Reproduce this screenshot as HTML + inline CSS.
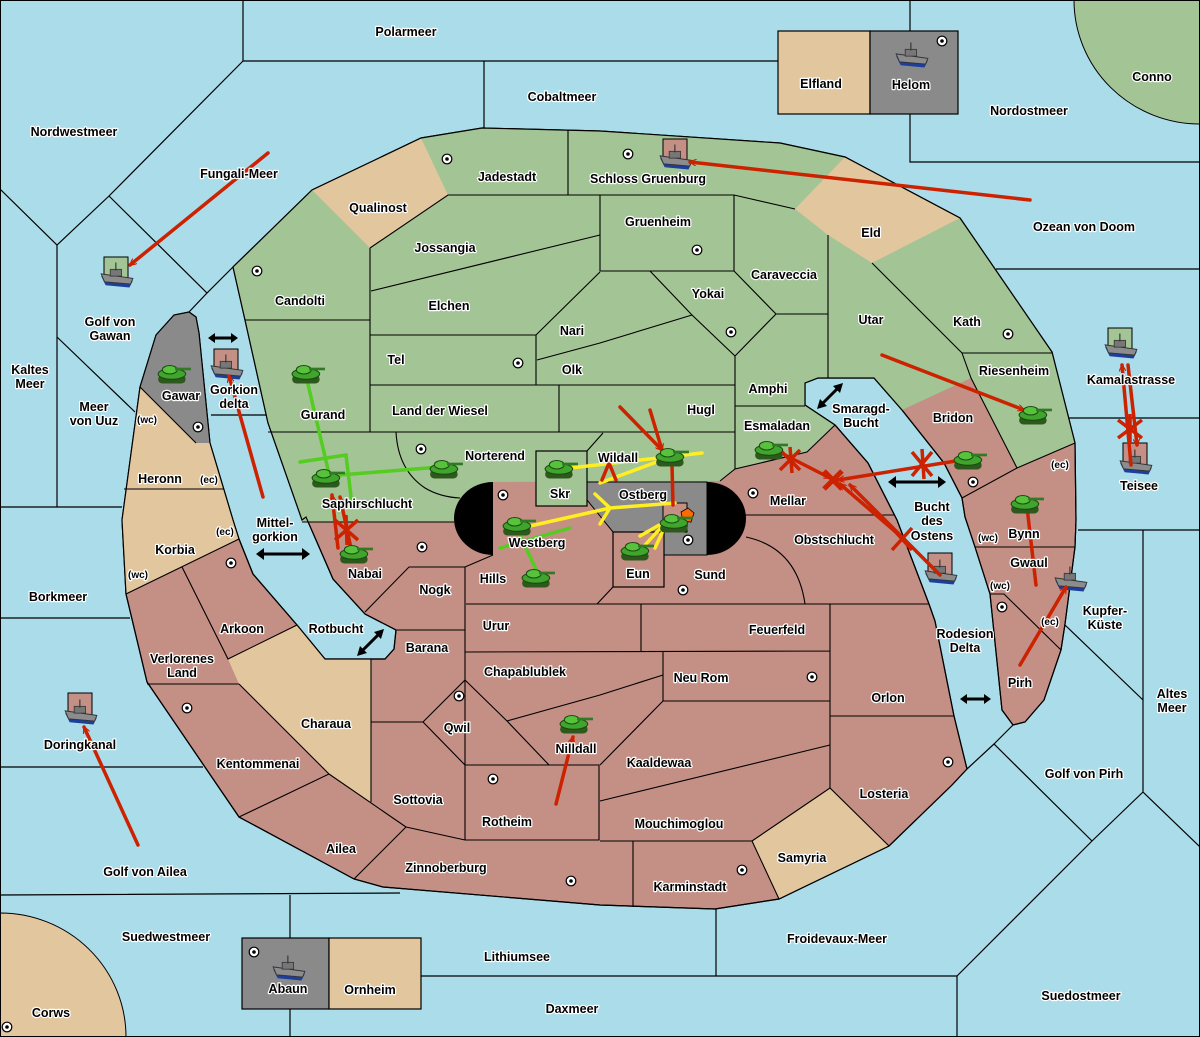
<!DOCTYPE html>
<html><head><meta charset="utf-8"><style>
html,body{margin:0;padding:0;background:#aadcea}
svg{display:block}
text{font-family:"Liberation Sans","DejaVu Sans",sans-serif;font-weight:bold;font-size:12.5px;fill:#000;stroke:#fff;stroke-width:2.4px;paint-order:stroke;stroke-linejoin:round;text-anchor:middle}
text.s{font-size:10px}
</style></head><body>
<svg width="1200" height="1037" viewBox="0 0 1200 1037" xmlns="http://www.w3.org/2000/svg">
<defs>
<marker id="ah" viewBox="0 0 12 12" refX="11" refY="6" markerWidth="7" markerHeight="7" orient="auto" markerUnits="userSpaceOnUse">
<path d="M0,0 L12,6 L0,12" fill="none" stroke="#cc2200" stroke-width="2"/></marker>
<symbol id="tank" viewBox="0 0 34 22" overflow="visible">
<rect x="2" y="12" width="26" height="8" rx="4" fill="#2d5a1c"/>
<ellipse cx="15" cy="11" rx="13" ry="5" fill="#3fa52c" stroke="#1c4a12" stroke-width="1"/>
<ellipse cx="13" cy="7" rx="7" ry="4" fill="#57c23c" stroke="#1c4a12" stroke-width="1"/>
<rect x="18" y="5" width="15" height="2.5" fill="#2f7a22"/>
</symbol>
<symbol id="ship" viewBox="0 0 30 22" overflow="visible">
<path d="M1,12 L29,16 L26,22 L5,20 Z" fill="#1d3f9a"/>
<path d="M1,10 L29,14 L27,19 L4,17 Z" fill="#8c8c8c" stroke="#333" stroke-width="0.8"/>
<rect x="9" y="6" width="10" height="6" fill="#777" stroke="#333" stroke-width="0.7"/>
<line x1="14" y1="0" x2="14" y2="7" stroke="#333" stroke-width="1"/>
</symbol>
<symbol id="sc" viewBox="-6 -6 12 12" overflow="visible">
<circle r="4.8" fill="#fff" stroke="#000" stroke-width="1.2"/><circle r="1.8" fill="#000"/>
</symbol>
</defs>

<path d="M1074,0 A126,124 0 0 0 1200,124 L1200,0Z" fill="#a3c495" stroke="#000" stroke-width="1"/>
<path d="M0,913 A126,124 0 0 1 126,1037 L0,1037Z" fill="#e2c69e" stroke="#000" stroke-width="1"/>
<g fill="none" stroke="#000" stroke-width="1.2">
<path d="M243,0 L243,61 L778,61 M484,61 L484,128 M910,0 L910,31 M910,114 L910,162 L1200,162"/>
<path d="M243,61 L109,196 L57,245 L0,189 M57,245 L57,507 M109,196 L207,293 L233,267 M189,312 L207,293 M57,337 L135,412 M0,507 L122,507 M211,415 L266,415"/>
<path d="M996,269 L1200,269 M1069,418 L1200,418 M1078,530 L1200,530 M1143,530 L1143,792 M1065,625 L1143,700 M1143,792 L1200,847 M1143,792 L1092,841 M967,769 L994,744 L1092,841 M994,744 L1013,725 M1092,841 L957,976 M600,976 L957,976 M957,976 L957,1037 M716,909 L716,976"/>
<path d="M0,618 L130,618 M0,767 L203,767 M0,895 L400,893 M290,895 L290,1037 M421,976 L600,976"/>
</g>
<rect x="778" y="31" width="92" height="83" fill="#e2c69e" stroke="#000" stroke-width="1.2"/>
<rect x="870" y="31" width="88" height="83" fill="#8a8a8a" stroke="#000" stroke-width="1.2"/>
<rect x="242" y="938" width="87" height="71" fill="#8a8a8a" stroke="#000" stroke-width="1.2"/>
<rect x="329" y="938" width="92" height="71" fill="#e2c69e" stroke="#000" stroke-width="1.2"/>

<polygon fill="#c48f85" stroke="#000" stroke-width="1.2" points="600,905 383,887 354,879 239,817 147,682 126,594 122,520 140,387 156,335 174,315 189,312 196,317 199,333 210,443 233,520 239,539 253,574 297,625 325,659 385,659 394,649 396,630 365,614 333,579 306,517 302,520 268,423 245,320 233,267 312,190 421,138 482,128 600,131 780,143 845,157 960,218 1052,352 1075,443 1076,520 1075,547 1065,624 1061,650 1044,700 1025,722 1013,725 1002,710 990,594 975,547 965,517 962,498 944,463 902,410 874,378 818,378 805,383 805,405 835,425 868,463 897,520 929,604 935,621 954,716 967,769 952,785 889,846 779,899 715,909"/>
<polygon fill="#a3c495" points="302,522 268,423 245,320 233,267 312,190 421,138 482,128 600,131 780,143 845,157 960,218 1052,352 1075,443 1017,468 971,378 902,410 874,378 818,378 805,383 805,405 835,425 807,452 735,469 720,481 493,482 493,522 454,522"/>
<g fill="#e2c69e">
<polygon points="312,190 421,138 448,195 370,248"/>
<polygon points="795,209 845,157 960,218 872,263 828,235"/>
<polygon points="140,387 196,443 210,443 233,520 239,539 126,594 122,520"/>
<polygon points="228,659 297,625 325,659 371,659 371,802 329,774 239,684"/>
<polygon points="752,841 830,788 889,846 779,899"/>
</g>
<polygon fill="#8a8a8a" points="140,387 156,335 174,315 189,312 196,317 199,333 210,443 196,443"/>
<polygon fill="none" stroke="#000" stroke-width="1.2" points="600,905 383,887 354,879 239,817 147,682 126,594 122,520 140,387 156,335 174,315 189,312 196,317 199,333 210,443 233,520 239,539 253,574 297,625 325,659 385,659 394,649 396,630 365,614 333,579 306,517 302,520 268,423 245,320 233,267 312,190 421,138 482,128 600,131 780,143 845,157 960,218 1052,352 1075,443 1076,520 1075,547 1065,624 1061,650 1044,700 1025,722 1013,725 1002,710 990,594 975,547 965,517 962,498 944,463 902,410 874,378 818,378 805,383 805,405 835,425 868,463 897,520 929,604 935,621 954,716 967,769 952,785 889,846 779,899 715,909"/>

<path d="M493,482 A39,36.5 0 0 0 493,555 Z" fill="#000"/>
<path d="M707,482 A39,36.5 0 0 1 707,555 Z" fill="#000"/>
<rect x="493" y="482" width="214" height="73" fill="#c48f85"/>
<polygon fill="#8a8a8a" stroke="#000" stroke-width="1" points="587,482 707,482 707,555 664,555 664,532 613,532 587,500"/>
<rect x="536" y="451" width="51" height="55" fill="#a3c495" stroke="#000" stroke-width="1.2"/>
<rect x="613" y="532" width="51" height="55" fill="#c48f85" stroke="#000" stroke-width="1.2"/>
<rect x="663" y="503" width="24" height="29" fill="#c48f85" stroke="#000" stroke-width="1"/>

<g fill="none" stroke="#000" stroke-width="1.1">
<path d="M370,248 L448,195 L568,195 L568,130 M370,248 L370,432 M245,320 L370,320 M371,291 L600,235 M370,335 L536,335 L600,272 M536,335 L536,385 M537,360 L600,343 L692,315"/>
<path d="M568,195 L600,195 L734,195 L795,209 M600,195 L600,271 L734,271 L734,195 M650,271 L692,315 L735,356 L776,314 L734,271 M776,314 L828,314 M828,235 L828,378"/>
<path d="M735,356 L735,469 M370,385 L735,385 M735,406 L805,406 M268,432 L735,432 M559,385 L559,432"/>
<path d="M872,263 L962,353 L1052,353 M962,353 L971,378 L1017,468 M962,498 L1017,468 L1075,443"/>
<path d="M396,432 Q398,470 425,488 Q440,497 460,498 M587,451 L603,433 M720,481 L735,469 L807,452 L835,425"/>
<path d="M302,522 L454,522 M365,612 L409,567 L465,567 L493,555 M465,567 L465,840 M396,630 L465,630 M466,604 L929,604 M597,604 L613,587 M641,604 L641,651 M465,652 L830,651 M830,604 L830,788 M663,651 L663,701 L830,701"/>
<path d="M371,659 L371,802 M371,722 L423,722 L465,680 M423,722 L465,765 L549,765 L507,721 L465,680 M507,721 L600,695 L663,675 M466,765 L599,765 L599,840 L465,840 M600,765 L663,701 M600,801 L830,745 M600,841 L752,841 M633,841 L633,907 M752,841 L830,788 L889,846 M752,841 L779,899 M830,716 L954,716"/>
<path d="M239,684 L329,774 L239,817 M329,774 L406,827 L354,879 M406,827 L465,840 M126,594 L239,539 M182,567 L228,659 L297,625 M147,684 L239,684 M124,489 L224,489 M196,443 L140,387"/>
<path d="M746,537 Q797,548 805,604 M745,515 L895,515 M975,547 L1075,547 M990,594 L1004,594 L1061,650"/>
</g>

<g>
<use href="#sc" x="441" y="153" width="12" height="12"/><use href="#sc" x="622" y="148" width="12" height="12"/>
<use href="#sc" x="691" y="244" width="12" height="12"/><use href="#sc" x="251" y="265" width="12" height="12"/>
<use href="#sc" x="512" y="357" width="12" height="12"/><use href="#sc" x="725" y="326" width="12" height="12"/>
<use href="#sc" x="1002" y="328" width="12" height="12"/><use href="#sc" x="192" y="421" width="12" height="12"/>
<use href="#sc" x="415" y="443" width="12" height="12"/><use href="#sc" x="936" y="35" width="12" height="12"/>
<use href="#sc" x="747" y="487" width="12" height="12"/><use href="#sc" x="682" y="534" width="12" height="12"/>
<use href="#sc" x="967" y="476" width="12" height="12"/><use href="#sc" x="225" y="557" width="12" height="12"/>
<use href="#sc" x="416" y="541" width="12" height="12"/><use href="#sc" x="677" y="584" width="12" height="12"/>
<use href="#sc" x="996" y="601" width="12" height="12"/><use href="#sc" x="806" y="671" width="12" height="12"/>
<use href="#sc" x="453" y="690" width="12" height="12"/><use href="#sc" x="181" y="702" width="12" height="12"/>
<use href="#sc" x="942" y="756" width="12" height="12"/><use href="#sc" x="487" y="773" width="12" height="12"/>
<use href="#sc" x="565" y="875" width="12" height="12"/><use href="#sc" x="736" y="864" width="12" height="12"/>
<use href="#sc" x="248" y="946" width="12" height="12"/><use href="#sc" x="1" y="1021" width="12" height="12"/>
<use href="#sc" x="497" y="489" width="12" height="12"/>
</g>

<g stroke="#000" stroke-width="1">
<rect x="104" y="257" width="24" height="24" fill="#a3c495"/>
<rect x="214" y="349" width="24" height="24" fill="#c48f85"/>
<rect x="663" y="139" width="24" height="24" fill="#c48f85"/>
<rect x="1108" y="328" width="24" height="24" fill="#a3c495"/>
<rect x="1123" y="443" width="24" height="24" fill="#c48f85"/>
<rect x="928" y="553" width="24" height="24" fill="#c48f85"/>
<rect x="68" y="693" width="24" height="24" fill="#c48f85"/>
</g>
<g>
<use href="#ship" x="100" y="262" width="34" height="26"/>
<use href="#ship" x="210" y="354" width="34" height="26"/>
<use href="#ship" x="659" y="144" width="34" height="26"/>
<use href="#ship" x="895" y="42" width="34" height="26"/>
<use href="#ship" x="1104" y="333" width="34" height="26"/>
<use href="#ship" x="1119" y="449" width="34" height="26"/>
<use href="#ship" x="924" y="559" width="34" height="26"/>
<use href="#ship" x="1054" y="566" width="34" height="26"/>
<use href="#ship" x="64" y="699" width="34" height="26"/>
<use href="#ship" x="272" y="955" width="34" height="26"/>
</g>

<g fill="none" stroke-width="3.5" stroke-linecap="round">
<path stroke="#55cc22" d="M307,380 L330,478 M300,462 L346,455 L352,505 M340,475 L440,467 M520,535 L540,578 M500,548 L570,528"/>
<path stroke="#ffee22" d="M570,468 L702,453 M600,483 L670,457 M530,526 L610,508 M610,508 L675,503 M595,494 L610,508 M600,524 L610,508 M645,545 L668,520 M655,548 L668,520 M640,536 L668,520"/>
</g>

<g fill="none" stroke="#cc2200" stroke-width="3.5" stroke-linecap="round">
<path d="M268,153 L130,265" marker-end="url(#ah)"/>
<path d="M1030,200 L690,162" marker-end="url(#ah)"/>
<path d="M263,497 L229,376" marker-end="url(#ah)"/>
<path d="M138,845 L84,727" marker-end="url(#ah)"/>
<path d="M882,355 L1024,410" marker-end="url(#ah)"/>
<path d="M556,804 L573,737" marker-end="url(#ah)"/>
<path d="M1020,665 L1066,587" marker-end="url(#ah)"/>
<path d="M1036,585 L1027,507" marker-end="url(#ah)"/>
<path d="M620,407 L662,450" marker-end="url(#ah)"/>
<path d="M650,410 L662,450" marker-end="url(#ah)"/>
<path d="M672,465 L673,505 M602,480 L609,463 L616,480"/>
<path d="M1131,465 L1122,365" marker-end="url(#ah)"/>
<path d="M1128,365 L1137,445" marker-end="url(#ah)"/>
<path d="M785,455 L830,478" marker-end="url(#ah)"/>
<path d="M962,460 L838,480" marker-end="url(#ah)"/>
<path d="M905,540 L840,484" marker-end="url(#ah)"/>
<path d="M940,575 L850,485" marker-end="url(#ah)"/>
<path d="M338,548 L332,495" marker-end="url(#ah)"/>
<path d="M352,553 L340,497" marker-end="url(#ah)"/>
</g>
<g stroke="#cc2200" stroke-width="3.5" fill="none">
<path d="M824,471 L842,489 M842,471 L824,489" stroke-width="5"/>
<path d="M780,450 L800,470 M800,450 L780,470 M790,447 L792,473"/>
<path d="M912,452 L932,476 M932,452 L912,476 M922,449 L924,479"/>
<path d="M892,528 L912,550 M912,528 L892,550"/>
<path d="M335,520 L358,540 M358,520 L335,540 M346,515 L347,545"/>
<path d="M1118,420 L1142,438 M1142,420 L1118,438 M1130,414 L1130,444"/>
</g>
<polygon points="688,508 694,513 691,522 683,521 681,512" fill="#ff6a00" stroke="#000" stroke-width="0.8"/>

<g>
<use href="#tank" x="156" y="362" width="36" height="24"/>
<use href="#tank" x="290" y="362" width="36" height="24"/>
<use href="#tank" x="310" y="466" width="36" height="24"/>
<use href="#tank" x="428" y="457" width="36" height="24"/>
<use href="#tank" x="543" y="457" width="36" height="24"/>
<use href="#tank" x="654" y="445" width="36" height="24"/>
<use href="#tank" x="753" y="438" width="36" height="24"/>
<use href="#tank" x="952" y="448" width="36" height="24"/>
<use href="#tank" x="1017" y="403" width="36" height="24"/>
<use href="#tank" x="501" y="514" width="36" height="24"/>
<use href="#tank" x="338" y="542" width="36" height="24"/>
<use href="#tank" x="520" y="566" width="36" height="24"/>
<use href="#tank" x="619" y="539" width="36" height="24"/>
<use href="#tank" x="658" y="511" width="36" height="24"/>
<use href="#tank" x="1009" y="492" width="36" height="24"/>
<use href="#tank" x="558" y="712" width="36" height="24"/>
</g>

<g stroke="#000" stroke-width="3" fill="#000">
<path d="M212,338 L234,338"/><path d="M208,338 L215,333 L215,343Z M238,338 L231,333 L231,343Z" stroke="none"/>
<path d="M262,554 L304,554"/><path d="M256,554 L264,548 L264,560Z M310,554 L302,548 L302,560Z" stroke="none"/>
<path d="M894,482 L940,482"/><path d="M888,482 L896,476 L896,488Z M946,482 L938,476 L938,488Z" stroke="none"/>
<path d="M965,699 L986,699"/><path d="M960,699 L967,694 L967,704Z M991,699 L984,694 L984,704Z" stroke="none"/>
<path d="M361,652 L380,633"/><path d="M357,656 L360,646 L367,653Z M384,629 L381,639 L374,632Z" stroke="none"/>
<path d="M821,405 L839,387"/><path d="M817,409 L820,399 L827,406Z M843,383 L840,393 L833,386Z" stroke="none"/>
</g>

<g>
<text x="406" y="36">Polarmeer</text><text x="562" y="101">Cobaltmeer</text>
<text x="821" y="88">Elfland</text><text x="911" y="89">Helom</text>
<text x="1152" y="81">Conno</text><text x="1029" y="115">Nordostmeer</text>
<text x="74" y="136">Nordwestmeer</text><text x="239" y="178">Fungali-Meer</text>
<text x="507" y="181">Jadestadt</text><text x="648" y="183">Schloss Gruenburg</text>
<text x="378" y="212">Qualinost</text><text x="658" y="226">Gruenheim</text>
<text x="871" y="237">Eld</text><text x="1084" y="231">Ozean von Doom</text>
<text x="445" y="252">Jossangia</text><text x="784" y="279">Caraveccia</text>
<text x="300" y="305">Candolti</text><text x="449" y="310">Elchen</text>
<text x="708" y="298">Yokai</text><text x="871" y="324">Utar</text><text x="967" y="326">Kath</text>
<text x="110" y="326">Golf von</text><text x="110" y="340">Gawan</text>
<text x="572" y="335">Nari</text><text x="396" y="364">Tel</text><text x="572" y="374">Olk</text>
<text x="30" y="374">Kaltes</text><text x="30" y="388">Meer</text>
<text x="1014" y="375">Riesenheim</text><text x="1131" y="384">Kamalastrasse</text>
<text x="768" y="393">Amphi</text><text x="181" y="400">Gawar</text>
<text x="234" y="394">Gorkion</text><text x="234" y="408">delta</text>
<text x="94" y="411">Meer</text><text x="94" y="425">von Uuz</text>
<text x="323" y="419">Gurand</text><text x="440" y="415">Land der Wiesel</text>
<text x="701" y="414">Hugl</text><text x="861" y="413">Smaragd-</text><text x="861" y="427">Bucht</text>
<text x="953" y="422">Bridon</text><text x="777" y="430">Esmaladan</text>
<text x="147" y="423" class="s">(wc)</text>
<text x="495" y="460">Norterend</text><text x="618" y="462">Wildall</text>
<text x="1139" y="490">Teisee</text><text x="160" y="483">Heronn</text>
<text x="209" y="483" class="s">(ec)</text><text x="1060" y="468" class="s">(ec)</text>
<text x="560" y="498">Skr</text><text x="643" y="499">Ostberg</text><text x="788" y="505">Mellar</text>
<text x="367" y="508">Saphirschlucht</text>
<text x="932" y="511">Bucht</text><text x="932" y="525">des</text><text x="932" y="540">Ostens</text>
<text x="275" y="527">Mittel-</text><text x="275" y="541">gorkion</text>
<text x="225" y="535" class="s">(ec)</text>
<text x="834" y="544">Obstschlucht</text><text x="537" y="547">Westberg</text>
<text x="1024" y="538">Bynn</text><text x="988" y="541" class="s">(wc)</text>
<text x="175" y="554">Korbia</text><text x="1029" y="567">Gwaul</text>
<text x="365" y="578">Nabai</text><text x="138" y="578" class="s">(wc)</text>
<text x="493" y="583">Hills</text><text x="638" y="578">Eun</text><text x="710" y="579">Sund</text>
<text x="1000" y="589" class="s">(wc)</text><text x="435" y="594">Nogk</text>
<text x="1105" y="615">Kupfer-</text><text x="1105" y="629">Küste</text>
<text x="58" y="601">Borkmeer</text><text x="496" y="630">Urur</text>
<text x="777" y="634">Feuerfeld</text><text x="242" y="633">Arkoon</text>
<text x="336" y="633">Rotbucht</text><text x="1050" y="625" class="s">(ec)</text>
<text x="965" y="638">Rodesion</text><text x="965" y="652">Delta</text>
<text x="427" y="652">Barana</text>
<text x="182" y="663">Verlorenes</text><text x="182" y="677">Land</text>
<text x="525" y="676">Chapablublek</text><text x="701" y="682">Neu Rom</text>
<text x="1020" y="687">Pirh</text><text x="1172" y="698">Altes</text><text x="1172" y="712">Meer</text>
<text x="888" y="702">Orlon</text><text x="326" y="728">Charaua</text><text x="457" y="732">Qwil</text>
<text x="80" y="749">Doringkanal</text><text x="576" y="753">Nilldall</text>
<text x="659" y="767">Kaaldewaa</text><text x="258" y="768">Kentommenai</text>
<text x="1084" y="778">Golf von Pirh</text><text x="884" y="798">Losteria</text>
<text x="418" y="804">Sottovia</text><text x="507" y="826">Rotheim</text>
<text x="679" y="828">Mouchimoglou</text><text x="341" y="853">Ailea</text>
<text x="802" y="862">Samyria</text><text x="446" y="872">Zinnoberburg</text>
<text x="145" y="876">Golf von Ailea</text><text x="690" y="891">Karminstadt</text>
<text x="837" y="943">Froidevaux-Meer</text><text x="166" y="941">Suedwestmeer</text>
<text x="517" y="961">Lithiumsee</text><text x="288" y="993">Abaun</text><text x="370" y="994">Ornheim</text>
<text x="1081" y="1000">Suedostmeer</text><text x="572" y="1013">Daxmeer</text><text x="51" y="1017">Corws</text>
</g>
<rect x="0.5" y="0.5" width="1199" height="1036" fill="none" stroke="#000" stroke-width="1"/>
</svg>
</body></html>
